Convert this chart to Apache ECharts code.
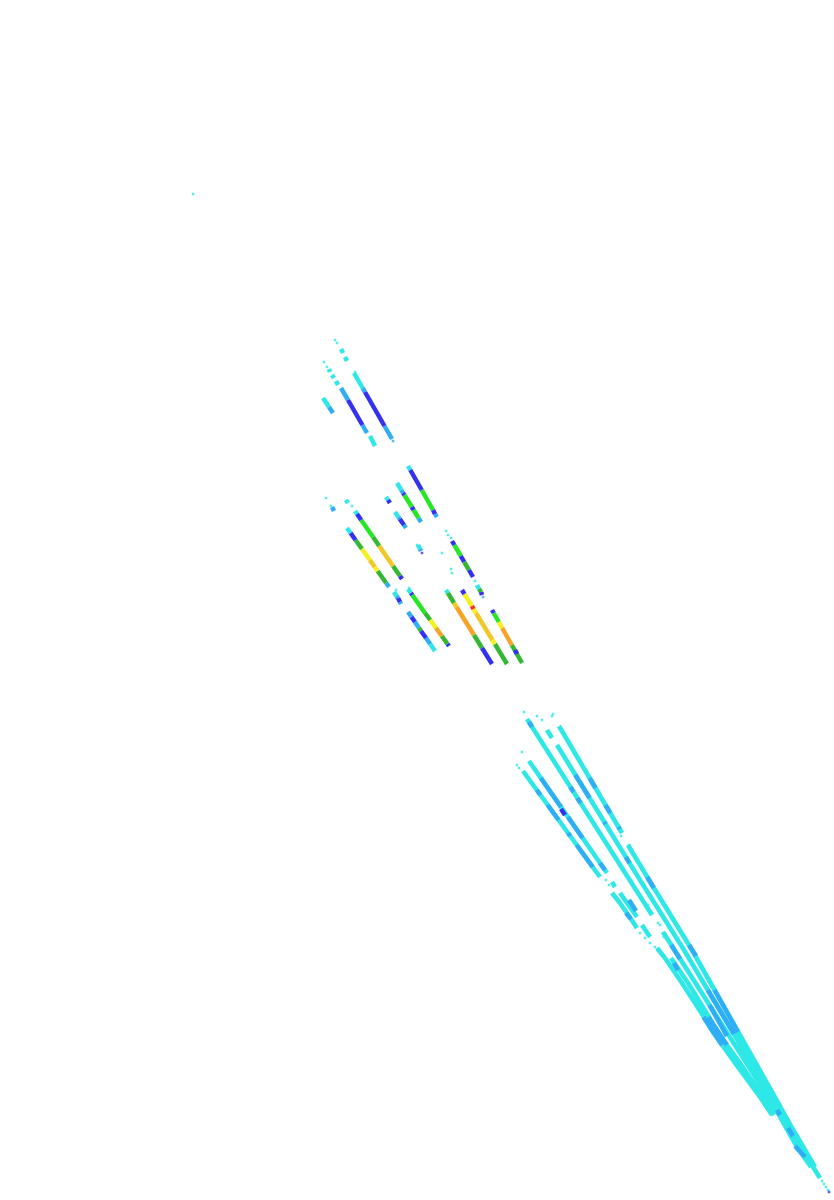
<!DOCTYPE html>
<html><head><meta charset="utf-8">
<style>html,body{margin:0;padding:0;background:#fff}#c{width:834px;height:1200px}</style>
<script src="https://cdn.jsdelivr.net/npm/echarts@6/dist/echarts.min.js"></script>
</head><body><div id="c"></div>
<script>
// each streak piece: [x1, y1, x2, y2], grouped by colour band
const cyanShort = [
 [341,349,343,353],[345,357,347,361],[329,369,330,372],[332,375,334,378],[336,381,338,385],
 [323,398,329,407],[354,373,362.6,388],[370,436,375,446],
 [408,466,410.3,470],[397,483,401.3,490],[395,512,398.4,517],[386,497,388,500],[355,511,357,514],[347,528,350.6,533],
 [418,545,420,549],[394,592,396.4,596],[408,589,410.9,593],[430.2,644,435,651],[446,590,447.9,593],[477,585,479,589],
 [346,500,348,503]
];
const cyanLanes = [
 [527,719,652,915],[663,932,674.5,950],[674.5,950,775,1108],[775,1108,789,1133],[789,1133,799,1150],[799,1150,811,1167],
 [547,730,552,738],[557,745,640,880],[640,880,684,950],[684,950,778,1108],[778,1108,792,1133],[792,1133,802,1150],[802,1150,813,1167],[813,1167,820,1178],
 [559,726,622,833],[628,845,649,880],[649,880,692,950],[692,950,781,1108],[781,1108,795,1133],[795,1133,805,1150],[805,1150,815,1167],
 [529,761,607,873],[612,882,615,887],[620,893,637,917],[642,925,650,937],[671,958,688,983],[688,983,709,1017],[709,1017,716,1030],[716,1030,740,1063],[740,1063,763,1097],[763,1097,774,1115],
 [523,771,600,877],[612,893,620,903],[620,903,637,928],[657,948,665,958],[665,958,682,983],[682,983,704,1017],[704,1017,711.5,1030],[711.5,1030,735,1063],[735,1063,760,1097],[760,1097,772,1115]
];
const skyShort = [
 [362.6,388,365,392],[384.5,426,392,439],[341,388,348,400],[362.4,425,367,433],[329,407,333,413],
 [435,514,437,517],[401.3,490,403,493],[418.5,518,421,522],[398.4,517,399.8,519],[404,525,406,528],[332,507,334,511],[420,549,421,551],
 [396.4,596,398,598],[400,602,401,604],[408,612,411.5,617],[415,622,419,628],[426,638,430.2,644],[386.2,583,389,587]
];
const skyLanes = [
 [529,722,532,727],[570.4,787,573.6,792],[577.4,798,580.6,803],
 [575.4,775,589.6,798],[604.4,822,605.6,824],[625.9,857,629.6,863],
 [589.6,778,595.5,788],[605.5,805,610.2,813],[618.5,827,619.7,829],[647.2,877,653.8,888],
 [540.8,778,561,807],[568,817,582.6,838],[600,863,604.9,870],
 [536.8,790,540.4,795],[547.7,805,558.6,820],[568,833,570.2,836],[576.7,845,592.7,867],
 [629,900,636,911],[626,913,631,919],[671.3,945,680,959],[689,945,696,956],[674,963,678,970],
 [707.8,990,734,1034],[714.5,990,738,1032],[709.5,1005,727,1036],
 [703.5,1017,722,1045],[708.5,1017,727,1045],
 [777,1110,780,1115],[788,1128,793,1136],[795,1146,805,1157]
];
const blueTracks = [
 [365,392,384.5,426],[348,400,362.4,425],[410.3,470,421.7,490],[433,510,435,514],
 [403,493,404.4,495],[411.8,507,413.6,510],[388,500,390,503],[399.8,519,404,525],[357,514,361.2,520],[400,576,402,579],
 [350.6,533,355.5,540],[452,541,454.3,545],[460.8,556,464.2,562],[469,570,473,577],[481,592,482,595],
 [398,598,400,602],[410.9,593,412.3,595],[447.5,644,449,646],[411.5,617,415,622],[421,631,426,638],[482,648,492,664],
 [462,590,464.4,594],[492,610,493.7,613],[515,650,517,654],[561,809,565,815]
];
const greenTracks = [
 [421.7,490,433,510],[404.4,495,411.8,507],[413.6,510,418.5,518],[361.2,520,373,537],[412.3,595,425,613],[454.3,545,460.8,556],[493.7,613,498.8,622]
];
const forestTracks = [
 [373,537,379.2,546],[393,566,400,576],[355.5,540,362,549],[377.6,571,386.2,583],[425,613,430.3,620],[441.8,636,447.5,644],[419,628,421,631],
 [447.9,593,454,603],[474,635,482,648],[494.9,644,507,664],[511.8,645,522,663],[464.2,562,469,570],[479,589,481,592]
];
const yellowTracks = [
 [362,549,369.8,560],[374.8,567,377.6,571],[430.3,620,436,628],[464.4,594,472,606],[492.4,640,494.9,644],[498.8,622,502.2,628],[473.5,609,476,613]
];
const goldTracks = [
 [379.2,546,393,566],[454,603,456.5,607],[369.8,560,374.8,567],[476,613,492.4,640]
];
const orangeTracks = [
 [436,628,441.8,636],[456.5,607,474,635],[502.2,628,511.8,645]
];
const redTracks = [[472,606,473.5,609]];

// isolated specks: [x, y]
const cyanSpecks = [[193,194],[335,340],[337,343],[324,362],[327,367],[326,498],[347,501],[352,506],[331,506],[446,531],[448,535],[451,538],[442,553],[409,588],[451,569],[452,573],[475,581],[417,545],[396,590],[522,752],[517,765],[519,768],[537,716],[542,720],[553,714],[552,716],[524,712],[355,372],[621,836],[629,845],[606,880],[609,885],[648,905],[652,913],[658,923],[663,933],[640,933],[645,938],[650,943],[655,947],[660,925],[664,937],[822,1181],[824,1184],[826,1187],[828,1190]];
const skySpecks = [[393,441],[483,597]];
const blueSpecks = [[422,553],[706,1000],[715,1014],[686,955],[789,1127],[829,1192],[414,477],[532,727]];
const greenSpecks = [[370,400],[373,407],[414,477]];

const colours = {cyan:'#2ee8e8',sky:'#30aef5',blue:'#3232f0',green:'#24e824',forest:'#34b834',yellow:'#f5f020',gold:'#f0c828',orange:'#f5a428',red:'#f53020'};
function track(pieces,color,width){
  const data=[];
  pieces.forEach(p=>{data.push([p[0],p[1]],[p[2],p[3]],null);});
  return {type:'line',data,showSymbol:false,silent:true,connectNulls:false,animation:false,
          lineStyle:{color,width,cap:'butt'},itemStyle:{color}};
}
function specks(points,color){
  return {type:'scatter',data:points,symbol:'rect',symbolSize:2.5,silent:true,animation:false,itemStyle:{color}};
}
const chart=echarts.init(document.getElementById('c'),null,{renderer:'canvas'});
chart.setOption({
  animation:false,
  backgroundColor:'#ffffff',
  grid:{left:0,right:0,top:0,bottom:0},
  xAxis:{type:'value',min:0,max:834,show:false},
  yAxis:{type:'value',min:0,max:1200,inverse:true,show:false},
  series:[
    track(cyanShort,colours.cyan,4.5),
    track(cyanLanes,colours.cyan,4.6),
    track(skyShort,colours.sky,4.5),
    track(skyLanes,colours.sky,4.6),
    track(greenTracks,colours.green,4.5),
    track(forestTracks,colours.forest,4.5),
    track(yellowTracks,colours.yellow,4.5),
    track(goldTracks,colours.gold,4.5),
    track(orangeTracks,colours.orange,4.5),
    track(redTracks,colours.red,4.5),
    track(blueTracks,colours.blue,4.5),
    specks(cyanSpecks,colours.cyan),
    specks(skySpecks,colours.sky),
    specks(greenSpecks,colours.green),
    specks(blueSpecks,colours.blue)
  ]
});
</script></body></html>
